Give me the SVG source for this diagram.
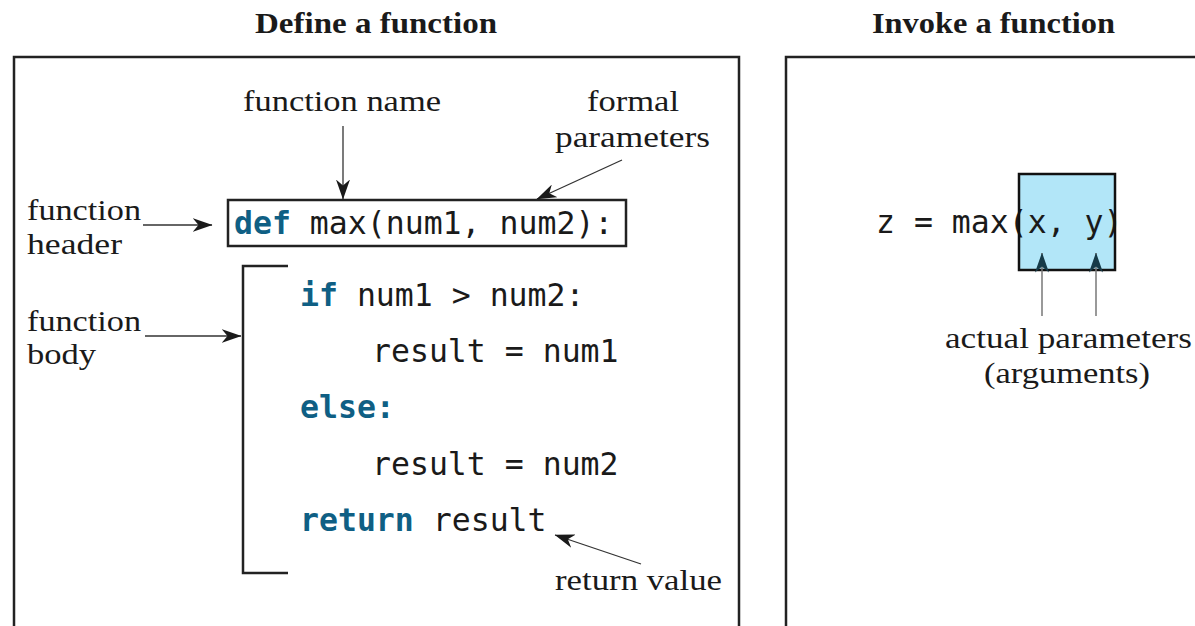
<svg xmlns="http://www.w3.org/2000/svg" width="1195" height="626" viewBox="0 0 1195 626">
<style>
.title{font-family:"Liberation Serif",serif;font-weight:bold;font-size:30px;fill:#1a1a1a}
.lbl{font-family:"Liberation Serif",serif;font-size:30px;fill:#1a1a1a}
.code{font-family:"DejaVu Sans Mono",monospace;font-size:31.5px;fill:#1a1a1a}
.kw{font-weight:bold;fill:#0f5f84}
.frame{fill:none;stroke:#222;stroke-width:2.5}
.conn{fill:none;stroke:#333;stroke-width:1.3}
.connup{fill:none;stroke:#777;stroke-width:1.5}
</style>
<defs>
<marker id="ah" viewBox="0 0 20 14" refX="19.5" refY="7" markerWidth="20" markerHeight="14" markerUnits="userSpaceOnUse" orient="auto">
<path d="M0,0 L20,7 L0,14 L6,7 Z" fill="#1a1a1a"/>
</marker>
<marker id="ah2" viewBox="0 0 20 14" refX="19.5" refY="7" markerWidth="20" markerHeight="14" markerUnits="userSpaceOnUse" orient="auto">
<path d="M0,0 L20,7 L0,14 L6,7 Z" fill="#163a48"/>
</marker>
</defs>
<rect width="1195" height="626" fill="#fff"/>
<text class="title" x="255" y="33" textLength="242" lengthAdjust="spacingAndGlyphs">Define a function</text>
<text class="title" x="872" y="33" textLength="243" lengthAdjust="spacingAndGlyphs">Invoke a function</text>
<path class="frame" d="M14,640 V57 H739 V640"/>
<path class="frame" d="M786,640 V57 H1200"/>

<g id="label-function-name"><text class="lbl" x="243" y="111" textLength="198" lengthAdjust="spacingAndGlyphs">function name</text></g>
<g id="label-formal-parameters">
<text class="lbl" x="587" y="111" textLength="92" lengthAdjust="spacingAndGlyphs">formal</text>
<text class="lbl" x="555" y="147" textLength="155" lengthAdjust="spacingAndGlyphs">parameters</text>
</g>
<g id="label-function-header">
<text class="lbl" x="27" y="220" textLength="114" lengthAdjust="spacingAndGlyphs">function</text>
<text class="lbl" x="27" y="254" textLength="95" lengthAdjust="spacingAndGlyphs">header</text>
</g>
<g id="label-function-body">
<text class="lbl" x="27" y="331" textLength="114" lengthAdjust="spacingAndGlyphs">function</text>
<text class="lbl" x="27" y="364" textLength="69" lengthAdjust="spacingAndGlyphs">body</text>
</g>
<g id="label-return-value"><text class="lbl" x="555" y="590" textLength="167" lengthAdjust="spacingAndGlyphs">return value</text></g>

<g id="header">
<rect class="frame" x="228" y="200" width="398" height="46"/>
<text class="code" x="234" y="234"><tspan class="kw">def</tspan> max(num1, num2):</text>
</g>

<g id="body">
<path class="frame" d="M288,266 H243 V573 H288"/>
<text class="code" x="300" y="306"><tspan class="kw">if</tspan> num1 &gt; num2:</text>
<text class="code" x="372" y="362">result = num1</text>
<text class="code kw" x="300" y="418">else:</text>
<text class="code" x="372" y="475">result = num2</text>
<text class="code" x="300" y="531"><tspan class="kw">return</tspan> result</text>
</g>

<g id="invoke">
<rect x="1019" y="174" width="96" height="96" fill="#b2e6f8"/>
<text class="code" x="876" y="233">z = max(x, y)</text>
<rect x="1019" y="174" width="96" height="96" fill="none" stroke="#111" stroke-width="2.5"/>
</g>
<g id="label-actual-parameters">
<text class="lbl" x="945" y="348" textLength="247" lengthAdjust="spacingAndGlyphs">actual parameters</text>
<text class="lbl" x="984" y="383" textLength="166" lengthAdjust="spacingAndGlyphs">(arguments)</text>
</g>

<g id="connectors">
<line class="conn" x1="343" y1="126" x2="343" y2="199" marker-end="url(#ah)"/>
<line class="conn" x1="622" y1="160" x2="537" y2="199" marker-end="url(#ah)"/>
<line class="conn" x1="143" y1="225" x2="212" y2="225" marker-end="url(#ah)"/>
<line class="conn" x1="145" y1="336" x2="241" y2="336" marker-end="url(#ah)"/>
<line class="conn" x1="641" y1="564" x2="555" y2="535" marker-end="url(#ah)"/>
<line class="connup" x1="1042" y1="316" x2="1042" y2="253" marker-end="url(#ah2)"/>
<line class="connup" x1="1096" y1="316" x2="1096" y2="253" marker-end="url(#ah2)"/>
</g>
</svg>
